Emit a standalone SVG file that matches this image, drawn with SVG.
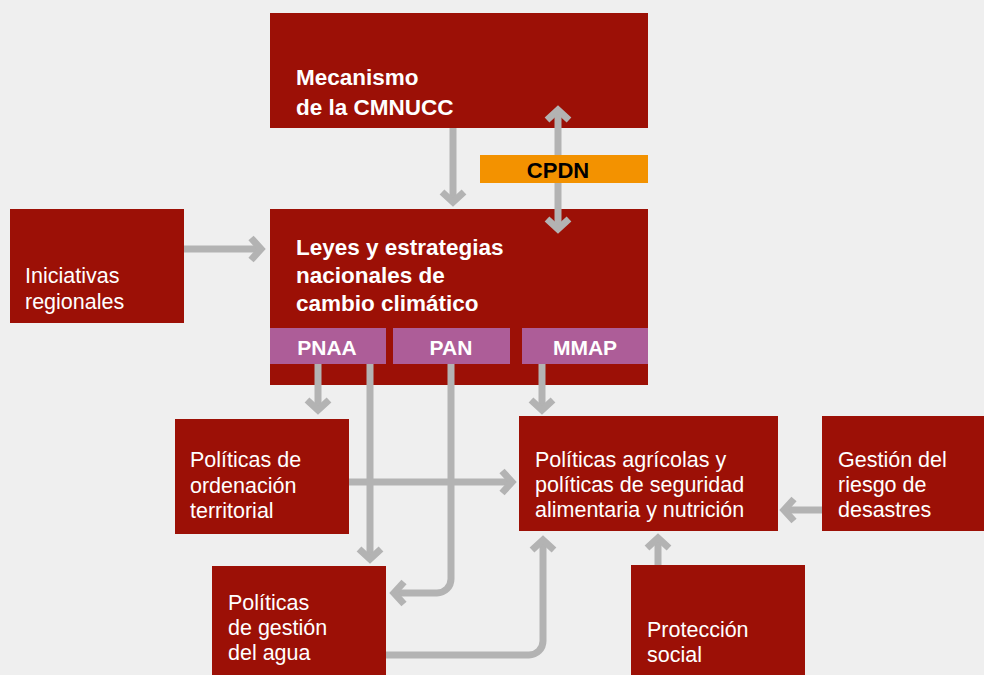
<svg xmlns="http://www.w3.org/2000/svg" width="984" height="675" viewBox="0 0 984 675">
<style>
.box{fill:#9c1006}
.pink{fill:#ad5d98}
.t{font-family:"Liberation Sans",Arial,sans-serif;fill:#fff;font-size:21.5px}
.b{font-family:"Liberation Sans",Arial,sans-serif;fill:#fff;font-size:22.5px;font-weight:bold}
.p{font-family:"Liberation Sans",Arial,sans-serif;fill:#fff;font-size:21px;font-weight:bold;text-anchor:middle}
.c{fill:none;stroke:#b3b3b3;stroke-width:7}
</style>
<defs>
<marker id="ah" markerUnits="userSpaceOnUse" markerWidth="40" markerHeight="40" refX="0" refY="0" viewBox="-20 -20 40 40" orient="auto-start-reverse" overflow="visible">
<path d="M-10,-11 L0,0 L-10,11" fill="none" stroke="#b3b3b3" stroke-width="7"/>
</marker>
</defs>
<rect width="984" height="675" fill="#efefef"/>
<g id="mecanismo">
<rect class="box" x="270" y="13" width="378" height="115"/>
<text class="b" x="296" y="85">Mecanismo</text>
<text class="b" x="296" y="115">de la CMNUCC</text>
</g>
<g id="leyes">
<rect class="box" x="270" y="209" width="378" height="176"/>
<text class="b" x="296" y="255">Leyes y estrategias</text>
<text class="b" x="296" y="283">nacionales de</text>
<text class="b" x="296" y="311">cambio climático</text>
<rect class="pink" x="270" y="328" width="116" height="36"/>
<rect class="pink" x="393" y="328" width="117" height="36"/>
<rect class="pink" x="522" y="328" width="126" height="36"/>
<text class="p" x="327" y="355">PNAA</text>
<text class="p" x="451" y="355">PAN</text>
<text class="p" x="585" y="355">MMAP</text>
</g>
<g id="iniciativas">
<rect class="box" x="10" y="209" width="174" height="114"/>
<text class="t" x="25" y="283">Iniciativas</text>
<text class="t" x="25" y="309">regionales</text>
</g>
<g id="ordenacion">
<rect class="box" x="175" y="419" width="174" height="115"/>
<text class="t" x="190" y="467">Políticas de</text>
<text class="t" x="190" y="493">ordenación</text>
<text class="t" x="190" y="518">territorial</text>
</g>
<g id="agricolas">
<rect class="box" x="519" y="416" width="259" height="115"/>
<text class="t" x="535" y="467">Políticas agrícolas y</text>
<text class="t" x="535" y="492">políticas de seguridad</text>
<text class="t" x="535" y="517">alimentaria y nutrición</text>
</g>
<g id="riesgo">
<rect class="box" x="822" y="416" width="162" height="115"/>
<text class="t" x="838" y="467">Gestión del</text>
<text class="t" x="838" y="492">riesgo de</text>
<text class="t" x="838" y="517">desastres</text>
</g>
<g id="agua">
<rect class="box" x="212" y="566" width="174" height="109"/>
<text class="t" x="228" y="610">Políticas</text>
<text class="t" x="228" y="635">de gestión</text>
<text class="t" x="228" y="660">del agua</text>
</g>
<g id="proteccion">
<rect class="box" x="631" y="565" width="174" height="110"/>
<text class="t" x="647" y="637">Protección</text>
<text class="t" x="647" y="662">social</text>
</g>
<g id="connectors">
<path class="c" d="M453,128 V202" marker-end="url(#ah)"/>
<path class="c" d="M558,110 V229" marker-start="url(#ah)" marker-end="url(#ah)"/>
<path class="c" d="M184,249 H261" marker-end="url(#ah)"/>
<path class="c" d="M318,364 V410" marker-end="url(#ah)"/>
<path class="c" d="M370,364 V559" marker-end="url(#ah)"/>
<path class="c" d="M451,364 V579 A14,14 0 0 1 437,593 H394" marker-end="url(#ah)"/>
<path class="c" d="M542,364 V410" marker-end="url(#ah)"/>
<path class="c" d="M349,482 H512" marker-end="url(#ah)"/>
<path class="c" d="M386,655 H529 A14,14 0 0 0 543,641 V540" marker-end="url(#ah)"/>
<path class="c" d="M822,510 H784" marker-end="url(#ah)"/>
<path class="c" d="M658,565 V538" marker-end="url(#ah)"/>
</g>
<g id="cpdn">
<rect x="480" y="155" width="168" height="28" fill="#f39200"/>
<text x="558" y="178" font-family="'Liberation Sans',Arial,sans-serif" font-size="22" font-weight="bold" fill="#000" text-anchor="middle">CPDN</text>
</g>
</svg>
